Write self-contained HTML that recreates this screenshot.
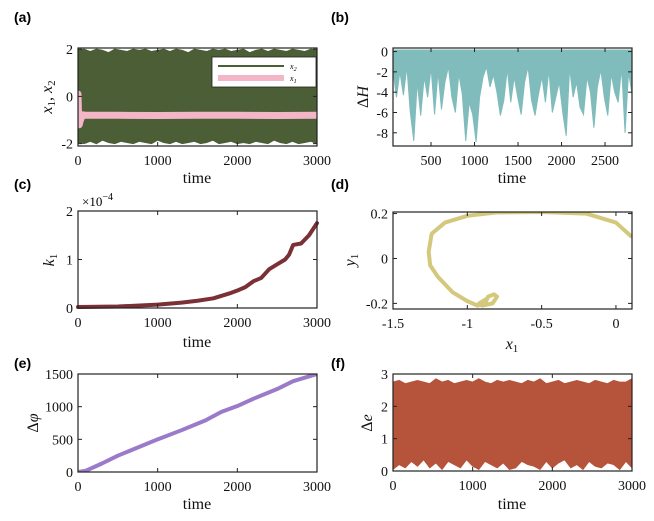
<!DOCTYPE html>
<html><head><meta charset="utf-8">
<style>
html,body{margin:0;padding:0;background:#fff;}
svg{display:block;font-family:"Liberation Serif",serif;}
.pl{font-family:"Liberation Sans",sans-serif;font-weight:bold;font-size:14px;}
.tk{font-size:14px;fill:#111;}
.lab{font-size:16px;fill:#111;}
</style></head>
<body>
<svg id="fig" width="654" height="521" viewBox="0 0 654 521" xmlns="http://www.w3.org/2000/svg">
<text class="pl" x="14" y="22">(a)</text>
<text class="pl" x="331" y="22">(b)</text>
<text class="pl" x="14" y="189">(c)</text>
<text class="pl" x="331" y="189">(d)</text>
<text class="pl" x="14" y="368">(e)</text>
<text class="pl" x="331" y="368">(f)</text>
</svg>
<script>
// ---- data ----
const aTime = [0,3000];
const aX2Top = [1.95,2.0,1.9,2.0,1.95,1.85,2.0,1.95,1.9,2.0,1.95,2.0,1.9,1.95,2.0,1.9,2.0,1.95,1.85,2.0,1.95,1.9,2.0,1.95,2.0,1.9,1.95,2.0,1.85,1.95,2.0,1.9,2.0,1.95,1.9,2.0,1.95,1.9,2.0,1.95];
const aX2Bot = [-1.95,-2.0,-1.9,-2.0,-1.85,-1.95,-2.0,-1.9,-1.95,-2.0,-1.9,-1.95,-2.0,-1.85,-1.95,-2.0,-1.9,-2.0,-1.95,-1.9,-2.0,-1.95,-1.85,-2.0,-1.95,-1.9,-2.0,-1.95,-2.0,-1.9,-1.95,-2.0,-1.85,-1.95,-2.0,-1.9,-2.0,-1.95,-1.9,-2.0];
const aX1T = [0,5,15,30,60,100,500,1000,1500,2000,2500,3000];
const aX1V = [0.1,-0.6,-1.2,-1.0,-0.78,-0.8,-0.8,-0.81,-0.8,-0.8,-0.81,-0.8];
const bMin = [-1.8,-4.5,-2,-4.3,-1.5,-6,-8.8,-3,-6.3,-2.5,-4.5,-1.6,-6.2,-2,-5.7,-3,-1.5,-4.5,-6,-2.2,-4.2,-8.8,-5,-6.2,-8.9,-4.5,-2.5,-1.5,-3.5,-2.3,-4,-6.3,-4.8,-1.7,-5,-2.5,-4.5,-6.2,-3,-1.5,-4.8,-6.3,-4.2,-2.5,-5,-1.8,-6,-4.5,-3,-6,-8.3,-1.6,-4.5,-3,-5.5,-6.2,-2.5,-4,-7.5,-3.5,-1.8,-4.5,-6.3,-2.2,-4,-5,-1.6,-8,-2,-4.2];
const cT = [0,500,1000,1300,1500,1700,1900,2000,2100,2200,2300,2400,2500,2600,2650,2700,2800,2900,3000];
const cK = [0.02,0.03,0.07,0.11,0.15,0.2,0.3,0.36,0.43,0.55,0.62,0.8,0.9,1.0,1.1,1.3,1.33,1.5,1.75];
const dX = [0.1,0.0,-0.2,-0.5,-0.8,-1.0,-1.15,-1.24,-1.26,-1.25,-1.2,-1.1,-1.0,-0.93,-0.88,-0.86,-0.82,-0.8,-0.83,-0.9,-0.92,-0.87];
const dY = [0.1,0.16,0.2,0.207,0.205,0.19,0.16,0.11,0.03,-0.03,-0.08,-0.15,-0.19,-0.21,-0.2,-0.17,-0.16,-0.17,-0.2,-0.21,-0.2,-0.18];
const eT = [0,100,300,500,800,1000,1300,1600,1800,2000,2200,2500,2700,3000];
const eP = [0,20,130,250,400,500,640,790,920,1010,1120,1270,1390,1500];
const fTop = [2.75,2.8,2.7,2.75,2.8,2.75,2.7,2.85,2.75,2.8,2.7,2.75,2.8,2.75,2.85,2.75,2.7,2.8,2.75,2.8,2.75,2.7,2.8,2.75,2.85,2.7,2.75,2.8,2.7,2.75,2.8,2.75,2.7,2.8,2.75,2.7,2.8,2.75,2.75,2.85];
const fBot = [0.05,0.2,0.1,0.3,0.15,0.35,0.1,0.25,0.05,0.3,0.2,0.1,0.35,0.15,0.05,0.3,0.2,0.1,0.25,0.05,0.1,0.3,0.2,0.15,0.05,0.3,0.1,0.25,0.35,0.1,0.2,0.05,0.3,0.15,0.1,0.25,0.2,0.05,0.3,0.1];
const aXTicks=[0,1000,2000,3000], aYTicks=[-2,0,2];
const bXTicks=[500,1000,1500,2000,2500], bYTicks=[0,-2,-4,-6,-8];
const cXTicks=[0,1000,2000,3000], cYTicks=[0,1,2];
const dXTicks=[-1.5,-1,-0.5,0], dYTicks=[-0.2,0,0.2];
const eXTicks=[0,1000,2000,3000], eYTicks=[0,500,1000,1500];
const fXTicks=[0,1000,2000,3000], fYTicks=[0,1,2,3];

const NS='http://www.w3.org/2000/svg';
const svg=document.getElementById('fig');
function mk(tag,attrs,parent){const e=document.createElementNS(NS,tag);for(const k in attrs)e.setAttribute(k,attrs[k]);(parent||svg).appendChild(e);return e;}
function axes(x0,y0,x1,y1,xmin,xmax,ymin,ymax){
  return {x0,y0,x1,y1,sx:v=>x0+(v-xmin)/(xmax-xmin)*(x1-x0),sy:v=>y1-(v-ymin)/(ymax-ymin)*(y1-y0)};
}
function frame(ax,xt,yt,name,fmt){
  const g=mk('g',{});
  
  
  const r=mk('rect',{x:ax.x0,y:ax.y0,width:ax.x1-ax.x0,height:ax.y1-ax.y0,fill:'none',stroke:'#222','stroke-width':1.2},g);
  
  
  xt.forEach(v=>{const x=ax.sx(v);
    mk('line',{x1:x,x2:x,y1:ax.y1,y2:ax.y1-4,stroke:'#222'},g);
    mk('line',{x1:x,x2:x,y1:ax.y0,y2:ax.y0+4,stroke:'#222'},g);
    const t=mk('text',{x:x,y:ax.y1+19,'text-anchor':'middle',class:'tk'},g);t.textContent=fmt?fmt(v):v;
    
    });
  yt.forEach(v=>{const y=ax.sy(v);
    mk('line',{x1:ax.x0,x2:ax.x0+4,y1:y,y2:y,stroke:'#222'},g);
    mk('line',{x1:ax.x1,x2:ax.x1-4,y1:y,y2:y,stroke:'#222'},g);
    const t=mk('text',{x:ax.x0-5,y:y+5,'text-anchor':'end',class:'tk'},g);t.textContent=String(v).replace('-','-');
    
    });
}
function clip(ax,id){const c=mk('clipPath',{id});mk('rect',{x:ax.x0,y:ax.y0,width:ax.x1-ax.x0,height:ax.y1-ax.y0},c);return 'url(#'+id+')';}
function line(ax,xs,ys,color,w,name,cp){
  const p=mk('polyline',{points:xs.map((x,i)=>ax.sx(x)+','+ax.sy(ys[i])).join(' '),fill:'none',stroke:color,'stroke-width':w,'stroke-linejoin':'round','stroke-linecap':'round'});
  if(cp)p.setAttribute('clip-path',cp);
  
  
  return p;
}
function band(ax,tmin,tmax,top,bot,color,name){
  const n=top.length, m=bot.length;
  const pts=[];
  top.forEach((v,i)=>pts.push(ax.sx(tmin+(tmax-tmin)*i/(n-1))+','+ax.sy(v)));
  for(let i=m-1;i>=0;i--)pts.push(ax.sx(tmin+(tmax-tmin)*i/(m-1))+','+ax.sy(bot[i]));
  const p=mk('polygon',{points:pts.join(' '),fill:color,stroke:color,'stroke-width':1});
  
  
}
function label(x,y,txt,name,rot,html){
  const t=mk('text',{x,y,'text-anchor':'middle',class:'lab'});
  if(rot)t.setAttribute('transform','rotate(-90 '+x+' '+y+')');
  if(html)t.innerHTML=html;else t.textContent=txt;
  
  
}
// (a)
const A=axes(78,48,317,146,0,3000,-2.1,2.05);
band(A,0,3000,aX2Top,aX2Bot,'#4b5e36','x2-series');
line(A,aX1T,aX1V,'#f2b6c6',7,'x1-series',clip(A,'ca'));
frame(A,aXTicks,aYTicks,'panel-a');
const lg=mk('g',{});


mk('rect',{x:212,y:57,width:104,height:30,fill:'#fff',stroke:'#222','stroke-width':0.8},lg);
mk('line',{x1:218,x2:284,y1:66,y2:66,stroke:'#4b5e36','stroke-width':2},lg);
mk('line',{x1:218,x2:284,y1:78,y2:78,stroke:'#f2b6c6','stroke-width':6},lg);
const l1=mk('text',{x:290,y:69,'font-size':8,'font-style':'italic'},lg);l1.innerHTML='x<tspan font-size="6" dy="2">2</tspan>';


const l2=mk('text',{x:290,y:81,'font-size':8,'font-style':'italic'},lg);l2.innerHTML='x<tspan font-size="6" dy="2">1</tspan>';


label(197,183,'time','panel-a-x-axis-title');
label(52,97,'','panel-a-y-axis-title',true,'<tspan font-style="italic">x</tspan><tspan font-size="11" dy="3">1</tspan><tspan dy="-3">, </tspan><tspan font-style="italic">x</tspan><tspan font-size="11" dy="3">2</tspan>');
// (b)
const B=axes(393,48,632,146,63,2810,-9.3,0.35);
band(B,63,2810,bMin.map(()=>0.15),bMin,'#80bcbc','delta-h-series');
frame(B,bXTicks,bYTicks,'panel-b');
label(512,183,'time','panel-b-x-axis-title');
label(368,97,'','panel-b-y-axis-title',true,'Δ<tspan font-style="italic">H</tspan>');
// (c)
const C=axes(78,211,317,308,0,3000,0,2);
line(C,cT,cK,'#7b3036',4,'k1-series');
frame(C,cXTicks,cYTicks,'panel-c');
const ex=mk('text',{x:82,y:206,'font-size':13});ex.innerHTML='×10<tspan font-size="10" dy="-6">−4</tspan>';


label(197,347,'time','panel-c-x-axis-title');
label(54,260,'','panel-c-y-axis-title',true,'<tspan font-style="italic">k</tspan><tspan font-size="11" dy="3">1</tspan>');
// (d)
const D=axes(393,212,632,309,-1.5,0.108,-0.225,0.207);
line(D,dX,dY,'#d4c87c',4,'trajectory-series',clip(D,'cd'));
frame(D,dXTicks,dYTicks,'panel-d');
label(512,349,'','panel-d-x-axis-title',false,'<tspan font-style="italic">x</tspan><tspan font-size="11" dy="3">1</tspan>');
label(355,260,'','panel-d-y-axis-title',true,'<tspan font-style="italic">y</tspan><tspan font-size="11" dy="3">1</tspan>');
// (e)
const E=axes(78,374,317,472,0,3000,0,1500);
line(E,eT,eP,'#9b7bc9',4,'delta-phi-series',clip(E,'ce'));
frame(E,eXTicks,eYTicks,'panel-e');
label(197,509,'time','panel-e-x-axis-title');
label(38,423,'','panel-e-y-axis-title',true,'Δ<tspan font-style="italic">φ</tspan>');
// (f)
const F=axes(393,374,632,471,0,3000,0,3);
band(F,0,3000,fTop,fBot,'#b6533b','delta-e-series');
frame(F,fXTicks,fYTicks,'panel-f');
label(512,509,'time','panel-f-x-axis-title');
label(372,423,'','panel-f-y-axis-title',true,'Δ<tspan font-style="italic">e</tspan>');
</script>
</body></html>
